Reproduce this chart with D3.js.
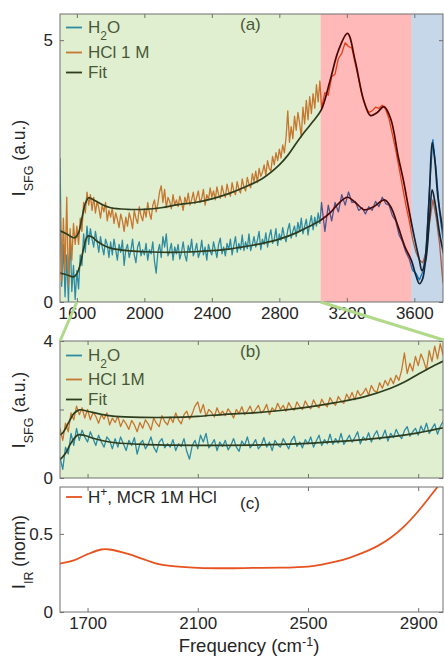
<!DOCTYPE html>
<html>
<head>
<meta charset="utf-8">
<script src="https://cdnjs.cloudflare.com/ajax/libs/d3/7.8.5/d3.min.js"></script>
<style>
body { margin: 0; background: #fff; }
text { font-family: "Liberation Sans", Arial, sans-serif; fill: #262626; }
</style>
</head>
<body>
<div id="chart"></div>
<script>
// SFG spectra, 1500-3040 cm-1 every 10 cm-1
const h2oLow = [2.75, 0.3, 1.1, 0.1, 0.9, 0.0, 1.3, 0.2, 0.7, 0.05,
  0.6, 0.25, 0.9, 0.7, 1.3, 0.95, 1.45, 1.1, 1.4, 1.2,
  1.05, 1.35, 1.15, 0.95, 1.25, 1.05, 0.9, 1.2, 1.1, 0.85,
  1.15, 0.9, 1.2, 1.0, 0.8, 1.1, 0.95, 1.18, 0.7, 1.0,
  1.1, 0.85, 0.98, 1.2, 0.9, 0.75, 1.05, 1.15, 0.88, 1.0,
  0.9, 1.12, 0.8, 1.0, 0.92, 1.15, 0.78, 0.55, 0.95, 1.1,
  0.85, 1.25, 1.05, 1.3, 0.88, 0.98, 1.12, 0.8, 1.05, 0.92,
  1.1, 0.82, 0.95, 1.15, 0.9, 0.78, 1.08, 0.95, 1.2, 0.88,
  0.98, 1.12, 0.85, 0.95, 1.18, 0.9, 1.05, 0.8, 1.1, 0.97,
  0.9, 1.15, 1.0, 0.85, 1.1, 1.22, 0.92, 1.05, 0.88, 1.12,
  1.0, 1.2, 0.9, 1.08, 1.25, 0.95, 1.12, 1.0, 1.28, 0.98,
  1.15, 1.02, 1.3, 0.98, 1.1, 1.25, 1.05, 1.18, 1.35, 1.0,
  1.2, 1.1, 1.32, 1.05, 1.25, 1.38, 1.12, 1.2, 1.4, 1.08,
  1.3, 1.18, 1.42, 1.25, 1.15, 1.38, 1.5, 1.22, 1.35, 1.45,
  1.25, 1.52, 1.35, 1.6, 1.3, 1.45, 1.58, 1.28, 1.5, 1.65,
  1.38, 1.62, 1.45, 1.7, 1.5]
const hclLow = [1.9, 0.4, 1.6, 0.6, 2.0, 0.3, 1.4, 0.8, 1.5, 1.1,
  1.45, 1.1, 1.6, 1.35, 1.9, 1.7, 2.1, 1.85, 2.05, 1.75,
  2.0, 1.7, 1.92, 1.8, 1.6, 1.85, 1.72, 1.9, 1.55, 1.75,
  1.62, 1.8, 1.5, 1.7, 1.58, 1.42, 1.68, 1.55, 1.35, 1.62,
  1.45, 1.7, 1.58, 1.4, 1.75, 1.6, 1.5, 1.82, 1.65, 1.55,
  1.78, 1.62, 1.9, 1.7, 1.58, 1.85, 1.95, 1.72, 1.88, 2.1,
  2.22, 1.9, 2.15, 1.8, 2.0, 1.92, 1.78, 2.05, 1.85, 1.95,
  1.82, 2.02, 1.9, 1.75, 2.0, 1.88, 2.08, 1.85, 1.95, 2.1,
  1.88, 2.0, 2.12, 1.9, 1.98, 2.15, 1.85, 2.05, 1.95, 2.18,
  2.0, 2.12, 1.95, 2.2, 2.05, 1.98, 2.22, 2.08, 2.0, 2.25,
  2.1, 2.02, 2.28, 2.12, 2.05, 2.3, 2.15, 2.08, 2.35, 2.2,
  2.12, 2.38, 2.25, 2.18, 2.45, 2.3, 2.5, 2.28, 2.55, 2.4,
  2.48, 2.62, 2.42, 2.7, 2.55, 2.5, 2.78, 2.62, 2.85, 2.7,
  2.92, 2.75, 3.0, 2.85, 3.15, 3.65, 3.05, 3.35, 3.12, 3.55,
  3.28, 3.62, 3.42, 3.15, 3.72, 3.4, 3.85, 3.48, 3.92, 3.6,
  3.98, 3.7, 4.15, 3.82, 4.22]
// 3050-3770 cm-1 every 20 cm-1
const h2oHigh = [1.9, 1.35, 1.85, 1.55, 1.9, 1.72, 2.05, 1.85, 2.1, 1.9,
  1.92, 1.75, 1.8, 1.68, 1.82, 1.75, 1.92, 1.82, 2.0, 1.88,
  1.85, 1.65, 1.55, 1.28, 1.15, 0.95, 0.82, 0.6, 0.55, 0.42,
  0.58, 1.0, 2.2, 3.1, 2.5, 1.7, 1.2]
const hclHigh = [3.7, 4.0, 3.95, 4.3, 4.35, 4.65, 4.75, 4.95, 4.88, 4.85,
  4.55, 4.25, 3.95, 3.75, 3.62, 3.65, 3.72, 3.7, 3.76, 3.68,
  3.5, 3.2, 2.9, 2.55, 2.2, 1.85, 1.55, 1.2, 0.95, 0.8,
  0.75, 0.95, 1.5, 1.95, 1.6, 1.1, 0.35]

// fits
const hclFitFreq = [1500, 1540, 1570, 1590, 1610, 1630, 1650, 1670, 1700, 1750, 1800, 1900, 2000, 2100, 2200, 2300, 2400, 2500, 2600, 2700, 2800, 2850, 2900, 2950, 3000, 3050, 3100, 3150, 3204, 3250, 3300, 3340, 3380, 3420, 3460, 3505, 3535, 3565, 3600, 3630, 3645, 3665, 3690, 3706, 3725, 3750, 3775]
const hclFitVal = [1.36, 1.30, 1.24, 1.23, 1.32, 1.60, 1.88, 1.99, 1.95, 1.86, 1.80, 1.77, 1.77, 1.80, 1.86, 1.90, 1.97, 2.07, 2.20, 2.36, 2.62, 2.80, 3.03, 3.25, 3.45, 3.68, 4.22, 4.80, 5.13, 4.60, 3.85, 3.56, 3.62, 3.73, 3.50, 2.77, 2.33, 1.81, 1.24, 0.80, 0.60, 0.75, 1.60, 2.14, 1.85, 1.30, 0.90]
const h2oFitFreq = [1500, 1540, 1580, 1600, 1620, 1640, 1665, 1690, 1720, 1760, 1800, 1900, 2000, 2100, 2200, 2300, 2400, 2500, 2600, 2700, 2800, 2900, 2950, 3000, 3045, 3100, 3150, 3204, 3250, 3305, 3360, 3422, 3460, 3505, 3545, 3582, 3610, 3630, 3650, 3670, 3690, 3706, 3722, 3740, 3775]
const h2oFitVal = [0.55, 0.52, 0.48, 0.54, 0.72, 1.02, 1.26, 1.24, 1.16, 1.08, 1.03, 0.98, 0.96, 0.95, 0.95, 0.96, 0.98, 1.01, 1.06, 1.12, 1.20, 1.32, 1.40, 1.48, 1.56, 1.70, 1.88, 2.00, 1.90, 1.76, 1.82, 1.95, 1.82, 1.43, 1.05, 0.80, 0.50, 0.35, 0.45, 1.00, 2.10, 3.05, 2.70, 2.00, 1.25]

// IR, MCR 1M HCl
const irFreq = [1600, 1650, 1700, 1750, 1780, 1850, 1900, 1950, 2000, 2100, 2200, 2300, 2400, 2450, 2500, 2550, 2600, 2650, 2700, 2750, 2800, 2850, 2900, 2950, 3000]
const irVal = [0.31, 0.33, 0.37, 0.40, 0.40, 0.37, 0.34, 0.31, 0.295, 0.283, 0.28, 0.282, 0.284, 0.286, 0.29, 0.303, 0.322, 0.347, 0.38, 0.42, 0.475, 0.55, 0.645, 0.755, 0.87]

// shaded spectral regions of panel (a)
const regionEdges = [1500, 3045, 3582, 3770]
const regionColors = ["#98ca62", "#ff1616", "#3e7ab6"]

const freqLow = d3.range(h2oLow.length).map(i => 1500 + 10 * i)
const freqHigh = d3.range(h2oHigh.length).map(i => 3050 + 20 * i)
const freq = freqLow.concat(freqHigh)
const h2o = d3.zip(freq, h2oLow.concat(h2oHigh))
const hcl = d3.zip(freq, hclLow.concat(hclHigh))
const h2oFit = d3.zip(h2oFitFreq, h2oFitVal)
const hclFit = d3.zip(hclFitFreq, hclFitVal)
const ir = d3.zip(irFreq, irVal)

const blue = "#0072bd", orange = "#d95319", irColor = "#e8521f"
const axisColor = "#707070"

const svg = d3.select("#chart").append("svg")
  .attr("width", 444).attr("height", 656)

// panel boxes
const pa = { left: 60, right: 443, top: 14, bottom: 302 }
const pb = { left: 60, right: 443, top: 341, bottom: 478 }
const pc = { left: 60, right: 443, top: 487, bottom: 612 }

const xA = d3.scaleLinear().domain([1500, 3770]).range([pa.left, pa.right])
const yA = d3.scaleLinear().domain([0, 5.5]).range([pa.bottom, pa.top])
const xB = d3.scaleLinear().domain([1600, 2990]).range([pb.left, pb.right])
const yB = d3.scaleLinear().domain([0, 4]).range([pb.bottom, pb.top])
const yC = d3.scaleLinear().domain([0, 0.8]).range([pc.bottom, pc.top])

function clip(id, p) {
  svg.append("clipPath").attr("id", id).append("rect")
    .attr("x", p.left).attr("y", p.top)
    .attr("width", p.right - p.left).attr("height", p.bottom - p.top)
  return svg.append("g").attr("clip-path", "url(#" + id + ")")
}

function path(g, data, x, y, color, w, curve) {
  const gen = d3.line().x(d => x(d[0])).y(d => y(d[1]))
  if (curve) gen.curve(d3.curveCatmullRom.alpha(0.5))
  g.append("path").datum(data)
    .attr("d", gen)
    .attr("fill", "none")
    .attr("stroke", color)
    .attr("stroke-width", w)
    .attr("stroke-linejoin", "round")
}

function legendRow(g, y, color, parts) {
  g.append("line").attr("x1", 66).attr("x2", 82).attr("y1", y - 5.5).attr("y2", y - 5.5)
    .attr("stroke", color).attr("stroke-width", 1.8)
  const t = g.append("text").attr("x", 88).attr("y", y).attr("font-size", 17)
  parts.forEach(p => t.append("tspan").attr("dy", p[1]).attr("font-size", p[2] || 17).text(p[0]))
}

function frame(p, x, y, xTicks, showX, yTicks, yLabels) {
  const fmtY = d => yLabels.includes(d) ? d : ""
  const axes = [
    svg.append("g").attr("transform", "translate(0," + p.bottom + ")")
      .call(d3.axisBottom(x).tickValues(xTicks).tickSize(-4).tickPadding(5).tickFormat(d => showX ? d : "")),
    svg.append("g").attr("transform", "translate(0," + p.top + ")")
      .call(d3.axisTop(x).tickValues(xTicks).tickSize(-4).tickFormat("")),
    svg.append("g").attr("transform", "translate(" + p.left + ",0)")
      .call(d3.axisLeft(y).tickValues(yTicks).tickSize(-4).tickPadding(7).tickFormat(fmtY)),
    svg.append("g").attr("transform", "translate(" + p.right + ",0)")
      .call(d3.axisRight(y).tickValues(yTicks).tickSize(-4).tickFormat(""))
  ]
  axes.forEach(a => {
    a.select(".domain").remove()
    a.attr("font-size", 17)
    a.selectAll("line").attr("stroke", axisColor)
    a.selectAll("text").attr("fill", "#262626")
  })
  svg.append("rect").attr("x", p.left).attr("y", p.top)
    .attr("width", p.right - p.left).attr("height", p.bottom - p.top)
    .attr("fill", "none").attr("stroke", axisColor).attr("stroke-width", 1)
}

function yLabel(cx, cy, sub, rest) {
  const t = svg.append("text")
    .attr("transform", "translate(" + cx + "," + cy + ") rotate(-90)")
    .attr("text-anchor", "middle").attr("font-size", 17.5)
  t.append("tspan").text("I")
  t.append("tspan").attr("dy", 8).attr("font-size", 12.5).text(sub)
  t.append("tspan").attr("dy", -8).text(rest)
}

// ---- panel (a)
const gA = clip("clipA", pa)
path(gA, h2o, xA, yA, blue, 1.3)
path(gA, hcl, xA, yA, orange, 1.3)
path(gA, h2oFit, xA, yA, "#000", 1.7, true)
path(gA, hclFit, xA, yA, "#000", 1.7, true)
legendRow(gA, 33, blue, [["H", 0], ["2", 7, 12], ["O", -7]])
legendRow(gA, 58, orange, [["HCl 1 M", 0]])
legendRow(gA, 78, "#000", [["Fit", 0]])
gA.append("text").attr("x", 240).attr("y", 30).attr("font-size", 17).text("(a)")
gA.selectAll(".region")
  .data(regionColors)
  .enter().append("rect")
  .attr("x", (d, i) => xA(regionEdges[i]))
  .attr("width", (d, i) => xA(regionEdges[i + 1]) - xA(regionEdges[i]) + (i === 2 ? 2 : 0))
  .attr("y", pa.top).attr("height", pa.bottom - pa.top)
  .attr("fill", d => d).attr("fill-opacity", 0.3)
frame(pa, xA, yA, [1600, 2000, 2400, 2800, 3200, 3600], true, [0, 5], [0, 5])
yLabel(25, 158, "SFG", " (a.u.)")

// ---- panel (b)
const gB = clip("clipB", pb)
path(gB, h2o, xB, yB, blue, 1.3)
path(gB, hcl, xB, yB, orange, 1.3)
path(gB, h2oFit, xB, yB, "#000", 1.7, true)
path(gB, hclFit, xB, yB, "#000", 1.7, true)
legendRow(gB, 361, blue, [["H", 0], ["2", 7, 12], ["O", -7]])
legendRow(gB, 385, orange, [["HCl 1M", 0]])
legendRow(gB, 405, "#000", [["Fit", 0]])
gB.append("text").attr("x", 240).attr("y", 357).attr("font-size", 17).text("(b)")
gB.append("rect").attr("x", pb.left).attr("y", pb.top)
  .attr("width", pb.right - pb.left + 2).attr("height", pb.bottom - pb.top)
  .attr("fill", regionColors[0]).attr("fill-opacity", 0.3)
frame(pb, xB, yB, [1700, 2100, 2500, 2900], false, [0, 2, 4], [0, 4])
yLabel(25, 410, "SFG", " (a.u.)")

// ---- panel (c)
const gC = clip("clipC", pc)
path(gC, ir, xB, yC, irColor, 1.8, true)
gC.append("line").attr("x1", 66).attr("x2", 82).attr("y1", 497).attr("y2", 497)
  .attr("stroke", irColor).attr("stroke-width", 1.8)
const tc = gC.append("text").attr("x", 88).attr("y", 503).attr("font-size", 17)
tc.append("tspan").text("H")
tc.append("tspan").attr("dy", -7).attr("font-size", 12).text("+")
tc.append("tspan").attr("dy", 7).text(", MCR 1M HCl")
gC.append("text").attr("x", 240).attr("y", 509).attr("font-size", 17).text("(c)")
frame(pc, xB, yC, [1700, 2100, 2500, 2900], true, [0, 0.5], [0, 0.5])
yLabel(25, 552, "IR", " (norm)")

const xl = svg.append("text").attr("x", 249).attr("y", 652)
  .attr("text-anchor", "middle").attr("font-size", 18.5)
xl.append("tspan").text("Frequency (cm")
xl.append("tspan").attr("dy", -6).attr("font-size", 12.5).text("-1")
xl.append("tspan").attr("dy", 6).text(")")

// zoom connectors from (a) to (b)
const connectors = [[1600, pb.left], [3045, pb.right + 4]]
svg.selectAll(".connector")
  .data(connectors)
  .enter().append("line")
  .attr("x1", d => xA(d[0])).attr("y1", pa.bottom)
  .attr("x2", d => d[1]).attr("y2", pb.top)
  .attr("stroke", "#b0d98a").attr("stroke-width", 3)
</script>
</body>
</html>
